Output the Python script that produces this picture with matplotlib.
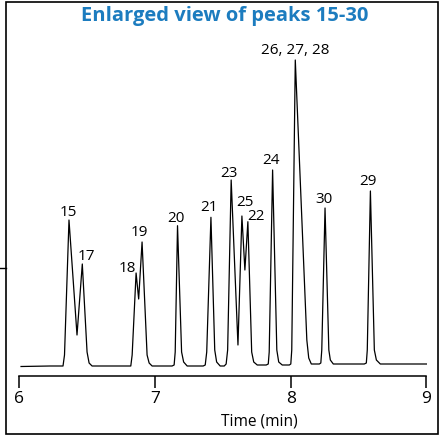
import matplotlib.pyplot as plt
from matplotlib.patches import Rectangle
from matplotlib.lines import Line2D

# chromatogram trace vertices (time in min, signal in arbitrary units)
time = [6.015, 6.228, 6.324, 6.335, 6.368, 6.427, 6.466, 6.501, 6.516, 6.538,
        6.811, 6.823, 6.833, 6.862, 6.881, 6.906, 6.943, 6.958, 6.980,
        7.127, 7.142, 7.150, 7.167, 7.197, 7.212, 7.238,
        7.356, 7.371, 7.382, 7.413, 7.441, 7.455, 7.481,
        7.511, 7.525, 7.536, 7.562, 7.612, 7.641, 7.663, 7.685, 7.713, 7.728, 7.754,
        7.820, 7.835, 7.842, 7.867, 7.898, 7.912, 7.938,
        7.990, 8.001, 8.008, 8.034, 8.119, 8.133, 8.152,
        8.211, 8.222, 8.229, 8.253, 8.281, 8.292, 8.314,
        8.542, 8.557, 8.564, 8.587, 8.616, 8.631, 8.660, 9.0]
signal = [0, 0.5, 0.5, 11.5, 146.5, 31.5, 102.5, 14.5, 3.5, 0.5,
          0.5, 0.5, 11.5, 93.5, 67.5, 124.5, 11.5, 3.5, 0.5,
          0.5, 1.5, 14.5, 140.8, 14.5, 4.5, 0.5,
          0.5, 1.5, 14.5, 149.2, 16.5, 4.5, 0.5,
          0.5, 2.5, 16.5, 186.5, 21.5, 150.5, 96.5, 144.8, 14.5, 4.5, 1.5,
          1.5, 2.5, 14.5, 196.5, 16.5, 4.5, 1.5,
          1.5, 2.5, 16.5, 306.5, 26.5, 8.5, 2.5,
          2.5, 3.5, 16.5, 158.5, 16.5, 6.5, 2.5,
          2.5, 3.5, 16.5, 175.5, 16.5, 6.5, 2.5, 2.5]

# peak labels
peak_labels = ["15", "17", "18", "19", "20", "21", "23", "25", "22", "24", "26,27,28", "30", "29"]
label_time = [6.361, 6.494, 6.798, 6.884, 7.157, 7.400, 7.542, 7.663, 7.747, 7.855, 8.034, 8.242, 8.569]
label_signal = [153.8, 110.5, 98.2, 134.2, 148.2, 158.8, 193.2, 163.8, 150.5, 206.5, 315.8, 167.2, 184.8]

xticks = [6, 7, 8, 9]

W, H = 442, 436
fig = plt.figure(figsize=(W / 100, H / 100), dpi=100)
font = ["Open Sans", "DejaVu Sans"]

# axes: x 6..9 spans px 19..426.5, bottom spine at px 376, 1 unit = 1 px vertically
ax = fig.add_axes([19 / W, (H - 376) / H, 407.5 / W, 346 / H])
ax.plot(time, signal, color="black", lw=0.9, solid_joinstyle="round")
ax.set_xlim(6, 9)
ax.set_ylim(-9.5, 336.5)

for txt, t, s in zip(peak_labels, label_time, label_signal):
    ax.text(t, s, txt.replace(",", ", "), ha="center", va="center", fontsize=11,
            family=font)

for sp in ["top", "right", "left"]:
    ax.spines[sp].set_visible(False)
ax.spines["bottom"].set_linewidth(1.1)
ax.set_yticks([])
ax.set_xticks(xticks)
ax.set_xticklabels([str(v) for v in xticks], family=font, fontsize=12.5)
ax.tick_params(axis="x", direction="out", length=8.6, width=1.1, pad=2.5)
ax.patch.set_visible(False)

fig.text(259.7 / W, 1 - 421.7 / H, "Time (min)", ha="center", va="center",
         fontsize=11.2, family=font)
fig.text(225 / W, 1 - 16 / H, "Enlarged view of peaks 15-30", ha="center", va="center",
         fontsize=14.5, fontweight="bold", color="#1c7cbf", family=font)

# outer frame and the small stub on the left
fig.add_artist(Rectangle((6 / W, (H - 434) / H), 432 / W, 432 / H, transform=fig.transFigure,
                         fill=False, edgecolor="black", lw=1.2))
fig.add_artist(Line2D([0, 6 / W], [1 - 267.7 / H] * 2, transform=fig.transFigure,
                      color="black", lw=1.0))

plt.savefig("out.png", dpi=100)
